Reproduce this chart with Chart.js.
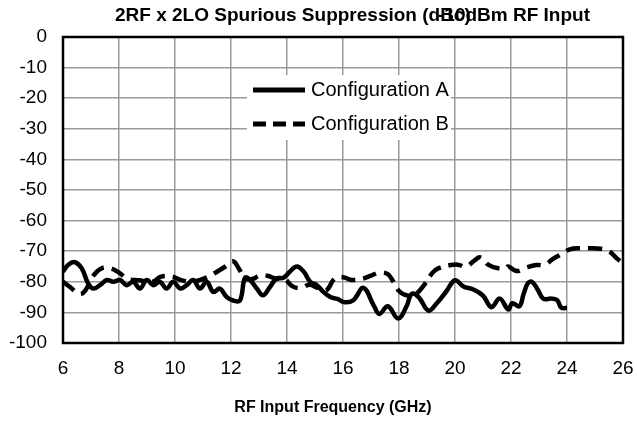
<!DOCTYPE html>
<html>
<head>
<meta charset="utf-8">
<script src="https://cdn.jsdelivr.net/npm/chart.js@4.4.1/dist/chart.umd.min.js"></script>
<style>
html,body{margin:0;padding:0;background:#fff;}
#wrap{width:637px;height:426px;}
</style>
</head>
<body>
<div id="wrap"><canvas id="c" width="637" height="426"></canvas></div>
<script>
const titleMain = "2RF x 2LO Spurious Suppression (dBc)";
const titleSub = "-10dBm RF Input";
const xTitle = "RF Input Frequency (GHz)";
const seriesNames = ["Configuration A", "Configuration B"];
const xTicks = [6, 8, 10, 12, 14, 16, 18, 20, 22, 24, 26];
const yTicks = [0, -10, -20, -30, -40, -50, -60, -70, -80, -90, -100];

const freqA = [6.0,6.19,6.43,6.67,6.9,7.08,7.32,7.56,7.8,8.04,8.27,8.51,8.75,8.99,9.23,9.46,9.7,9.94,10.18,10.42,10.65,10.89,11.13,11.37,11.6,11.85,12.08,12.32,12.5,12.68,12.92,13.15,13.39,13.63,13.87,14.1,14.35,14.6,14.83,15.07,15.3,15.55,15.8,16.07,16.37,16.73,17.1,17.3,17.6,17.97,18.27,18.45,18.7,19.05,19.35,19.7,20.0,20.3,20.65,21.0,21.3,21.6,21.9,22.05,22.3,22.45,22.6,22.75,22.95,23.15,23.45,23.65,23.8,24.0];
const valA = [-76.7,-74.4,-73.6,-75.6,-80.6,-82.2,-81.1,-79.4,-80,-79.4,-81.1,-80,-82.2,-79.4,-81.1,-80,-82.2,-80,-82.2,-81.1,-79.4,-82.2,-80,-83.3,-82.2,-85,-86.1,-86.1,-78.7,-79.4,-82.2,-84.4,-81.7,-78.9,-78.7,-76.7,-75,-76.7,-80,-81.1,-83.3,-85,-85.6,-86.7,-86,-82,-87.8,-90.5,-88,-92,-88,-84,-85,-89.4,-87,-83,-79.5,-81.5,-82.5,-84.5,-88.3,-85.5,-89,-87,-88,-84,-80.5,-80,-82.5,-85.5,-85.5,-86,-88.5,-88.5];

const freqB = [6.0,6.25,6.6,6.8,7.1,7.4,7.7,8.0,8.3,8.7,9.2,9.5,9.9,10.2,10.6,10.9,11.2,11.5,11.8,12.07,12.3,12.5,12.8,13.0,13.3,13.6,13.9,14.2,14.5,14.8,15.1,15.4,15.7,16.0,16.3,16.7,17.0,17.3,17.6,17.8,18.0,18.3,18.6,18.9,19.2,19.4,19.8,20.1,20.4,20.7,20.9,21.2,21.5,21.8,21.9,22.2,22.5,22.9,23.2,23.5,23.8,24.1,24.5,24.8,25.2,25.5,25.8,26.0];
const valB = [-80,-81.7,-84,-82.8,-77.8,-75.5,-75.6,-77,-79,-79.5,-80,-78.3,-78.3,-79.4,-80,-79.4,-78.3,-76.7,-75,-73.3,-76,-79,-79,-78,-78,-79,-79,-81.5,-82,-81,-82,-82.8,-79,-78.5,-79.4,-79,-78,-77,-77.5,-80,-83,-84.5,-84,-81,-77,-75.6,-74.6,-74.4,-75,-73,-72,-74.5,-75.5,-75.5,-75,-76.5,-75.5,-74.5,-74.5,-72.5,-71,-69.4,-69,-69,-69.2,-70,-72.5,-74];

const toPts = (xs, ys) => xs.map((x, i) => ({x: x, y: ys[i]}));

const FONT = "'Liberation Sans', Arial, Helvetica, sans-serif";

const overlayPlugin = {
  id: 'overlay',
  afterDatasetsDraw(chart) {
    const ctx = chart.ctx;
    const a = chart.chartArea;
    ctx.save();
    // legend box
    ctx.fillStyle = '#fff';
    ctx.fillRect(247, 75, 204, 65);
    ctx.strokeStyle = '#000';
    ctx.lineWidth = 5;
    ctx.lineCap = 'butt';
    ctx.beginPath(); ctx.moveTo(253, 90); ctx.lineTo(305, 90); ctx.stroke();
    ctx.setLineDash([13, 7]);
    ctx.beginPath(); ctx.moveTo(253, 124); ctx.lineTo(305, 124); ctx.stroke();
    ctx.setLineDash([]);
    ctx.fillStyle = '#000';
    ctx.font = "20px " + FONT;
    ctx.textBaseline = 'middle';
    ctx.textAlign = 'left';
    ctx.fillText(seriesNames[0], 311, 90);
    ctx.fillText(seriesNames[1], 311, 124);
    // frame
    ctx.lineWidth = 2.5;
    ctx.strokeRect(a.left, a.top, a.right - a.left, a.bottom - a.top);
    // titles
    ctx.font = "bold 19px " + FONT;
    ctx.textAlign = 'left';
    ctx.fillText(titleMain, 115, 16);
    ctx.textAlign = 'right';
    ctx.fillText(titleSub, 590, 16);
    // x axis title
    ctx.font = "bold 16px " + FONT;
    ctx.textAlign = 'center';
    ctx.fillText(xTitle, 333, 408);
    ctx.restore();
  }
};

new Chart(document.getElementById('c'), {
  type: 'scatter',
  data: {
    datasets: [
      {label: seriesNames[0], data: toPts(freqA, valA), showLine: true, borderColor: '#000', borderWidth: 4.5, pointRadius: 0, tension: 0.4, fill: false},
      {label: seriesNames[1], data: toPts(freqB, valB), showLine: true, borderColor: '#000', borderWidth: 4.5, borderDash: [14, 8], pointRadius: 0, tension: 0.4, fill: false}
    ]
  },
  options: {
    responsive: false,
    animation: false,
    layout: {padding: {left: 0, right: 14, top: 37, bottom: 0}},
    plugins: {legend: {display: false}, title: {display: false}, tooltip: {enabled: false}},
    scales: {
      x: {
        type: 'linear', min: 6, max: 26,
        afterBuildTicks: (s) => { s.ticks = xTicks.map(v => ({value: v})); },
        afterFit: (s) => { s.height = 83; s.paddingRight = 0; s.paddingLeft = 0; },
        grid: {color: '#9a9a9a', lineWidth: 1.5, drawTicks: false},
        border: {display: false},
        ticks: {color: '#000', font: {size: 19, family: FONT}, padding: 14, maxRotation: 0},
        title: {display: false}
      },
      y: {
        type: 'linear', min: -100, max: 0,
        afterBuildTicks: (s) => { s.ticks = yTicks.map(v => ({value: v})); },
        afterFit: (s) => { s.width = 63; },
        grid: {color: '#9a9a9a', lineWidth: 1.5, drawTicks: false},
        border: {display: false},
        ticks: {color: '#000', font: {size: 19, family: FONT}, padding: 16}
      }
    }
  },
  plugins: [overlayPlugin]
});
</script>
</body>
</html>
